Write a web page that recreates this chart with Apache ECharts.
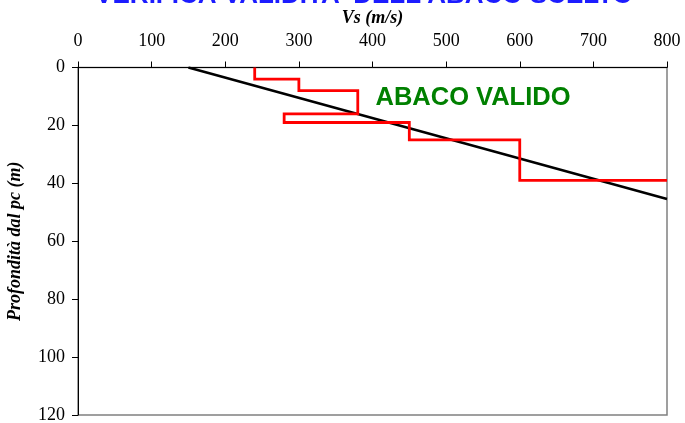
<!DOCTYPE html>
<html>
<head>
<meta charset="utf-8">
<script src="https://cdn.jsdelivr.net/npm/echarts@6/dist/echarts.min.js"></script>
<style>
html,body{margin:0;padding:0;background:#fff;}
#c{width:685px;height:423px;}
</style>
</head>
<body>
<div id="c"></div>
<script>
// Data
var titleText = "VERIFICA VALIDITA' DELL'ABACO SCELTO";
var xName = "Vs (m/s)";
var yName = "Profondità dal pc (m)";
var validLabel = "ABACO VALIDO";
// Reference (abaco) line: Vs vs depth
var abacoVs = [150, 800];
var abacoDepth = [0, 45.4];
// Measured Vs step profile
var profileVs =    [240, 240, 300, 300, 380, 380, 280, 280, 450, 450, 600, 600, 800];
var profileDepth = [0,   4,   4,   8,   8,   16,  16,  19,  19,  25,  25,  39,  39];

function pairs(xs, ys){ return xs.map(function(v,i){ return [v, ys[i]]; }); }

var chart = echarts.init(document.getElementById('c'), null, {renderer:'canvas'});
var serif = '"Liberation Serif","Times New Roman",serif';
chart.setOption({
  animation: false,
  grid: {left: 78, right: 18, top: 67.5, bottom: 8, show: true, borderColor: '#808080', borderWidth: 1.5,
         backgroundColor: 'transparent', containLabel: false, outerBoundsMode: 'none'},
  xAxis: {
    type: 'value', position: 'top', min: 0, max: 800, interval: 100,
    name: xName, nameLocation: 'middle', nameGap: 35,
    nameTextStyle: {fontFamily: serif, fontSize: 18, fontWeight: 'bold', fontStyle: 'italic', color: '#000'},
    axisLine: {show: true, onZero: false, lineStyle: {color: '#000', width: 1}},
    axisTick: {show: true, inside: false, length: 6, lineStyle: {color: '#000', width: 1}},
    axisLabel: {fontFamily: serif, fontSize: 18, color: '#000', margin: 17},
    splitLine: {show: false}
  },
  yAxis: {
    type: 'value', inverse: true, min: 0, max: 120, interval: 20,
    name: yName, nameLocation: 'middle', nameGap: 54, nameRotate: 90,
    nameTextStyle: {fontFamily: serif, fontSize: 18, fontWeight: 'bold', fontStyle: 'italic', color: '#000'},
    axisLine: {show: true, onZero: false, lineStyle: {color: '#000', width: 1}},
    axisTick: {show: true, inside: false, length: 6, lineStyle: {color: '#000', width: 1}},
    axisLabel: {fontFamily: serif, fontSize: 18, color: '#000', margin: 13},
    splitLine: {show: false}
  },
  series: [
    {type: 'line', data: pairs(abacoVs, abacoDepth), showSymbol: false, clip: true,
     lineStyle: {color: '#000', width: 2.5}, z: 3},
    {type: 'line', data: pairs(profileVs, profileDepth), showSymbol: false, clip: true,
     lineStyle: {color: '#ff0000', width: 2.8, join: 'miter'}, z: 4}
  ],
  graphic: [
    {type: 'text', x: 364, y: -4, z: 10,
     style: {text: titleText, font: 'bold 26px "Liberation Sans", Arial, sans-serif', fill: '#1c1cff', align: 'center', verticalAlign: 'middle'}},
    {type: 'text', x: 473, y: 97.5, z: 10,
     style: {text: validLabel, font: 'bold 25.5px "Liberation Sans", Arial, sans-serif', fill: '#008000', align: 'center', verticalAlign: 'middle'}}
  ]
});
</script>
</body>
</html>
